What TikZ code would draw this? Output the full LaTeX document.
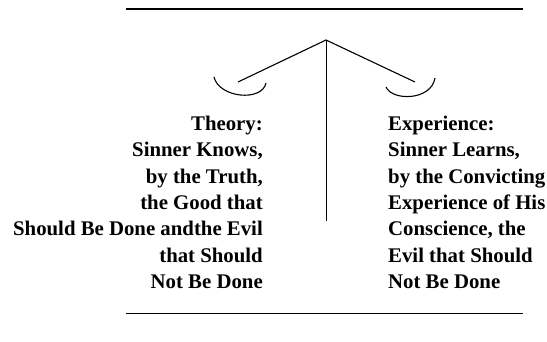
\documentclass[tikz,border=0pt]{standalone}
\usepackage{fontspec}
\setmainfont{Liberation Serif}
\begin{document}
\begin{tikzpicture}[x=1pt, y=-1pt,
  label text/.style={font=\bfseries\fontsize{20.8}{26.3}\selectfont, inner sep=0pt},
  rule/.style={line width=0.8pt},
  arm/.style={line width=1.1pt}]
  \useasboundingbox (0,0) rectangle (547,342);
  % Rules
  \coordinate (top l) at (126,9);
  \coordinate (top r) at (523,9);
  \coordinate (bot l) at (126,313);
  \coordinate (bot r) at (523,313);
  \draw[line width=1.6pt] (top l) -- (top r);
  \draw[rule] (bot l) -- (bot r);
  % Balance
  \coordinate (apex) at (326,40);
  \coordinate (arm l) at (238,82);
  \coordinate (arm r) at (415,82);
  \coordinate (stem) at (326,221);
  \draw[arm] (arm l) -- (apex) -- (arm r);
  \draw[rule] (apex) -- (stem);
  % Pans
  \draw[arm] (214,77) .. controls (219,98) and (262,102) .. (266,83);
  \draw[arm] (386,87) .. controls (392,101) and (431,101) .. (435,78);
  % Texts
  \node[label text, anchor=north east, align=right] (theory) at (263,116)
    {Theory:\\Sinner Knows,\\by the Truth,\\the Good that\\Should Be Done andthe Evil\\that Should\\Not Be Done};
  \node[label text, anchor=north west, align=left] (experience) at (388,116)
    {Experience:\\Sinner Learns,\\by the Convicting\\Experience of His\\Conscience, the\\Evil that Should\\Not Be Done};
\end{tikzpicture}
\end{document}
